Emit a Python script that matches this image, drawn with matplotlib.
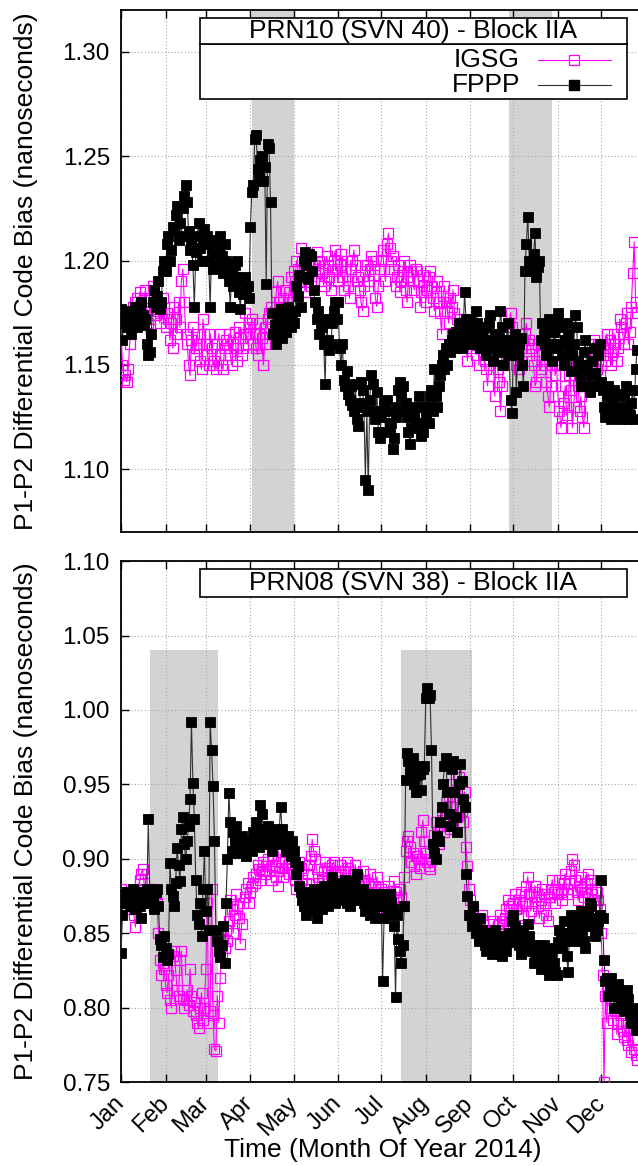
import numpy as np
import matplotlib
matplotlib.use("Agg")
import matplotlib.pyplot as plt
from matplotlib.patches import Rectangle
from matplotlib.lines import Line2D

plt.rcParams['font.family'] = ['Liberation Sans', 'DejaVu Sans']

# ---------------- data ----------------
months = ['Jan', 'Feb', 'Mar', 'Apr', 'May', 'Jun',
          'Jul', 'Aug', 'Sep', 'Oct', 'Nov', 'Dec']
month_start = [0, 31, 59, 90, 120, 151, 181, 212, 243, 273, 304, 334]

# PRN10 FPPP (daily, per month)
prn10_fppp = [
    [1.177,1.162,1.175,1.170,1.168,1.172,1.176,1.165,1.170,1.173,1.178,1.168,1.171,1.175,1.180,1.174,1.169,1.172,1.160,1.155,1.156,1.165,1.180,1.186,1.178,1.183,1.190,1.177,1.180,1.195,1.200],
    [1.195,1.208,1.212,1.200,1.205,1.216,1.214,1.222,1.226,1.210,1.218,1.212,1.225,1.231,1.236,1.228,1.214,1.205,1.210,1.198,1.178,1.204,1.212,1.218,1.206,1.200,1.210,1.215],
    [1.208,1.212,1.200,1.178,1.205,1.196,1.210,1.203,1.198,1.206,1.212,1.202,1.194,1.208,1.200,1.196,1.190,1.178,1.195,1.188,1.198,1.192,1.200,1.185,1.177,1.190,1.184,1.192,1.186,1.188,1.182],
    [1.216,1.233,1.236,1.258,1.260,1.244,1.240,1.248,1.250,1.238,1.245,1.189,1.256,1.254,1.228,1.175,1.165,1.169,1.160,1.172,1.168,1.177,1.163,1.170,1.174,1.166,1.178,1.172,1.168,1.175],
    [1.170,1.176,1.188,1.183,1.193,1.178,1.192,1.200,1.204,1.198,1.191,1.203,1.202,1.195,1.186,1.180,1.172,1.176,1.165,1.170,1.168,1.160,1.141,1.172,1.162,1.157,1.160,1.170,1.176,1.180,1.172],
    [1.180,1.158,1.150,1.160,1.143,1.140,1.147,1.136,1.133,1.140,1.131,1.128,1.141,1.124,1.121,1.132,1.142,1.138,1.130,1.095,1.128,1.090,1.133,1.145,1.141,1.128,1.124,1.137,1.118,1.115],
    [1.125,1.128,1.132,1.118,1.133,1.128,1.120,1.122,1.110,1.115,1.125,1.130,1.138,1.142,1.135,1.140,1.128,1.132,1.125,1.118,1.112,1.120,1.128,1.125,1.130,1.122,1.135,1.120,1.116,1.118,1.130],
    [1.125,1.130,1.122,1.135,1.138,1.128,1.148,1.135,1.130,1.140,1.145,1.150,1.155,1.148,1.158,1.150,1.160,1.156,1.162,1.165,1.158,1.166,1.163,1.170,1.161,1.158,1.165,1.185,1.172,1.168,1.160],
    [1.172,1.165,1.160,1.168,1.176,1.170,1.163,1.158,1.165,1.160,1.168,1.155,1.162,1.170,1.174,1.158,1.152,1.165,1.160,1.156,1.163,1.176,1.168,1.150,1.158,1.162,1.170,1.155,1.133,1.127],
    [1.160,1.165,1.137,1.155,1.160,1.163,1.150,1.140,1.195,1.208,1.221,1.200,1.195,1.198,1.203,1.213,1.192,1.197,1.200,1.162,1.170,1.165,1.160,1.155,1.168,1.172,1.160,1.152,1.166,1.158,1.170],
    [1.175,1.168,1.160,1.155,1.150,1.162,1.170,1.165,1.158,1.147,1.155,1.160,1.174,1.168,1.152,1.145,1.140,1.150,1.156,1.162,1.148,1.140,1.137,1.145,1.152,1.158,1.146,1.140,1.155,1.160],
    [1.142,1.138,1.130,1.125,1.135,1.140,1.128,1.124,1.132,1.138,1.125,1.130,1.136,1.128,1.124,1.127,1.135,1.140,1.130,1.124,1.126,1.132,1.138,1.124,1.148,1.157],
]

# PRN10 IGSG
prn10_igsg = [
    [1.168,1.150,1.143,1.145,1.142,1.148,1.160,1.172,1.178,1.175,1.180,1.182,1.176,1.185,1.178,1.174,1.182,1.186,1.176,1.170,1.172,1.182,1.188,1.178,1.174,1.180,1.176,1.170,1.178,1.182,1.175],
    [1.168,1.175,1.172,1.162,1.170,1.158,1.178,1.172,1.165,1.180,1.168,1.190,1.196,1.180,1.165,1.160,1.150,1.145,1.162,1.168,1.155,1.158,1.165,1.160,1.152,1.148,1.172,1.165],
    [1.160,1.155,1.150,1.165,1.158,1.150,1.152,1.148,1.160,1.165,1.155,1.150,1.148,1.158,1.162,1.160,1.165,1.155,1.150,1.160,1.166,1.158,1.152,1.168,1.163,1.155,1.158,1.175,1.165,1.160,1.170],
    [1.168,1.172,1.160,1.165,1.158,1.155,1.165,1.170,1.163,1.150,1.160,1.168,1.172,1.175,1.178,1.170,1.165,1.175,1.185,1.190,1.180,1.178,1.172,1.182,1.186,1.178,1.170,1.185,1.192,1.180],
    [1.195,1.188,1.200,1.196,1.190,1.206,1.200,1.194,1.185,1.192,1.198,1.202,1.188,1.195,1.190,1.198,1.204,1.196,1.200,1.190,1.194,1.188,1.196,1.202,1.198,1.192,1.186,1.195,1.200,1.205,1.196],
    [1.190,1.198,1.203,1.192,1.186,1.195,1.200,1.188,1.182,1.196,1.200,1.205,1.198,1.190,1.192,1.186,1.180,1.176,1.188,1.195,1.198,1.190,1.196,1.202,1.200,1.193,1.182,1.178,1.188,1.196],
    [1.200,1.205,1.196,1.190,1.208,1.213,1.206,1.200,1.202,1.196,1.188,1.192,1.198,1.185,1.190,1.195,1.200,1.186,1.180,1.192,1.198,1.195,1.190,1.186,1.196,1.195,1.190,1.178,1.185,1.193,1.188],
    [1.180,1.186,1.192,1.195,1.188,1.182,1.176,1.185,1.190,1.180,1.175,1.165,1.183,1.188,1.180,1.176,1.170,1.182,1.178,1.186,1.175,1.165,1.172,1.160,1.172,1.170,1.165,1.170,1.160,1.152,1.160],
    [1.165,1.158,1.168,1.160,1.155,1.163,1.150,1.165,1.158,1.160,1.152,1.148,1.140,1.150,1.158,1.163,1.155,1.135,1.160,1.148,1.142,1.128,1.140,1.150,1.160,1.155,1.165,1.170,1.175,1.168],
    [1.160,1.155,1.150,1.156,1.148,1.152,1.158,1.162,1.165,1.170,1.160,1.162,1.158,1.152,1.150,1.140,1.142,1.160,1.155,1.148,1.152,1.160,1.150,1.142,1.135,1.130,1.140,1.150,1.155,1.145,1.150],
    [1.135,1.128,1.120,1.125,1.132,1.140,1.126,1.130,1.145,1.138,1.120,1.130,1.145,1.150,1.140,1.128,1.135,1.125,1.120,1.140,1.150,1.145,1.138,1.150,1.160,1.162,1.155,1.148,1.152,1.145],
    [1.150,1.155,1.160,1.152,1.165,1.158,1.162,1.150,1.156,1.165,1.160,1.152,1.158,1.172,1.168,1.165,1.160,1.170,1.175,1.160,1.166,1.178,1.194,1.209,1.180,1.175],
]

# PRN08 FPPP
prn08_fppp = [
    [0.837,0.862,0.876,0.870,0.878,0.872,0.868,0.874,0.880,0.870,0.866,0.876,0.872,0.868,0.860,0.874,0.878,0.870,0.880,0.927,0.876,0.870,0.874,0.866,0.878,0.880,0.868,0.846,0.842,0.834,0.848],
    [0.840,0.832,0.836,0.897,0.880,0.875,0.868,0.884,0.907,0.896,0.885,0.920,0.928,0.910,0.900,0.912,0.922,0.940,0.992,0.951,0.927,0.886,0.862,0.856,0.870,0.848,0.880,0.905],
    [0.865,0.880,0.852,0.992,0.973,0.949,0.912,0.852,0.845,0.838,0.834,0.842,0.855,0.830,0.870,0.900,0.944,0.925,0.905,0.918,0.912,0.922,0.904,0.910,0.906,0.915,0.908,0.912,0.902,0.910,0.906],
    [0.912,0.905,0.918,0.910,0.925,0.915,0.908,0.936,0.930,0.920,0.915,0.910,0.922,0.918,0.912,0.905,0.910,0.916,0.920,0.912,0.918,0.935,0.920,0.910,0.912,0.905,0.915,0.908,0.902,0.912],
    [0.905,0.898,0.890,0.895,0.882,0.878,0.872,0.868,0.875,0.862,0.870,0.878,0.866,0.872,0.880,0.868,0.860,0.874,0.876,0.870,0.866,0.882,0.878,0.872,0.868,0.875,0.882,0.888,0.876,0.870,0.880],
    [0.884,0.878,0.872,0.880,0.876,0.886,0.870,0.874,0.868,0.880,0.876,0.872,0.885,0.890,0.878,0.872,0.876,0.880,0.870,0.865,0.872,0.868,0.862,0.876,0.870,0.866,0.860,0.872,0.868,0.876],
    [0.876,0.818,0.860,0.872,0.868,0.862,0.876,0.870,0.866,0.855,0.807,0.862,0.846,0.838,0.830,0.842,0.868,0.953,0.971,0.966,0.958,0.962,0.968,0.950,0.945,0.956,0.962,0.957,0.946,0.960,0.962],
    [1.008,1.015,1.008,1.010,0.973,0.910,0.904,0.900,0.915,0.912,0.925,0.935,0.950,0.962,0.968,0.945,0.930,0.922,0.960,0.966,0.945,0.928,0.918,0.950,0.964,0.952,0.940,0.935,0.890,0.875,0.862],
    [0.862,0.855,0.868,0.860,0.850,0.856,0.845,0.860,0.852,0.848,0.842,0.838,0.850,0.845,0.840,0.836,0.846,0.852,0.842,0.838,0.844,0.840,0.835,0.848,0.842,0.838,0.846,0.850,0.844,0.858],
    [0.862,0.855,0.845,0.850,0.842,0.836,0.848,0.852,0.840,0.845,0.856,0.848,0.842,0.838,0.830,0.836,0.842,0.840,0.832,0.826,0.835,0.842,0.838,0.830,0.826,0.822,0.834,0.840,0.830,0.824,0.822],
    [0.844,0.852,0.848,0.840,0.858,0.845,0.835,0.824,0.850,0.862,0.856,0.845,0.852,0.858,0.848,0.860,0.865,0.852,0.845,0.840,0.856,0.862,0.870,0.868,0.855,0.860,0.848,0.852,0.858,0.862],
    [0.886,0.860,0.832,0.818,0.820,0.808,0.812,0.820,0.815,0.800,0.812,0.808,0.816,0.800,0.805,0.810,0.798,0.802,0.812,0.806,0.795,0.790,0.798,0.800,0.785,0.792],
]

# PRN08 IGSG
prn08_igsg = [
    [0.880,0.875,0.872,0.868,0.878,0.874,0.870,0.866,0.872,0.862,0.854,0.876,0.880,0.886,0.890,0.893,0.884,0.876,0.872,0.878,0.874,0.880,0.872,0.868,0.876,0.870,0.850,0.832,0.822,0.830,0.826],
    [0.815,0.810,0.822,0.805,0.800,0.835,0.838,0.825,0.812,0.808,0.832,0.838,0.806,0.800,0.805,0.812,0.802,0.826,0.808,0.798,0.804,0.795,0.790,0.786,0.800,0.810,0.792,0.800],
    [0.826,0.870,0.790,0.798,0.880,0.795,0.772,0.771,0.808,0.790,0.820,0.835,0.846,0.840,0.852,0.845,0.858,0.872,0.866,0.850,0.862,0.876,0.868,0.860,0.843,0.856,0.870,0.874,0.880,0.884,0.870],
    [0.878,0.882,0.888,0.884,0.890,0.896,0.893,0.886,0.892,0.898,0.890,0.895,0.900,0.892,0.886,0.896,0.902,0.895,0.888,0.882,0.892,0.898,0.894,0.888,0.900,0.905,0.896,0.890,0.894,0.898],
    [0.890,0.886,0.880,0.892,0.898,0.894,0.886,0.880,0.874,0.884,0.890,0.896,0.902,0.913,0.905,0.900,0.893,0.888,0.884,0.878,0.886,0.892,0.898,0.894,0.888,0.882,0.890,0.896,0.898,0.892,0.888],
    [0.892,0.896,0.890,0.884,0.878,0.892,0.898,0.894,0.886,0.880,0.884,0.890,0.896,0.888,0.882,0.876,0.885,0.892,0.886,0.880,0.875,0.884,0.890,0.878,0.870,0.876,0.882,0.888,0.880,0.874],
    [0.880,0.872,0.878,0.870,0.865,0.882,0.876,0.860,0.870,0.885,0.878,0.866,0.872,0.880,0.874,0.868,0.888,0.905,0.912,0.915,0.908,0.898,0.904,0.895,0.890,0.902,0.900,0.894,0.918,0.926,0.912],
    [0.904,0.898,0.895,0.893,0.900,0.910,0.916,0.925,0.918,0.910,0.922,0.930,0.926,0.918,0.935,0.928,0.942,0.920,0.930,0.950,0.945,0.935,0.928,0.955,0.940,0.932,0.925,0.945,0.908,0.895,0.880],
    [0.872,0.860,0.866,0.858,0.852,0.860,0.848,0.856,0.862,0.858,0.850,0.846,0.852,0.856,0.848,0.845,0.858,0.852,0.846,0.850,0.856,0.862,0.858,0.852,0.860,0.866,0.872,0.868,0.858,0.862],
    [0.870,0.876,0.866,0.860,0.872,0.878,0.868,0.862,0.870,0.882,0.888,0.876,0.865,0.870,0.878,0.882,0.874,0.868,0.860,0.872,0.880,0.876,0.870,0.862,0.858,0.874,0.880,0.886,0.878,0.870,0.876],
    [0.880,0.886,0.878,0.872,0.884,0.890,0.880,0.876,0.884,0.892,0.900,0.896,0.886,0.878,0.872,0.882,0.888,0.880,0.874,0.878,0.884,0.890,0.886,0.880,0.876,0.872,0.868,0.878,0.872,0.866],
    [0.850,0.822,0.750,0.808,0.790,0.815,0.800,0.805,0.792,0.810,0.798,0.782,0.790,0.805,0.795,0.784,0.780,0.790,0.778,0.775,0.786,0.770,0.778,0.772,0.768,0.765],
]

# shaded periods (day of year)
prn10_shade = [(91, 120.5), (270, 299.5)]
prn08_shade = [(20, 67.5), (195, 244)]
prn08_shade_top = 1.04

titles = ['PRN10 (SVN 40) - Block IIA', 'PRN08 (SVN 38) - Block IIA']
series_names = ['IGSG', 'FPPP']
ylabel = 'P1-P2 Differential Code Bias (nanoseconds)'
xlabel = 'Time (Month Of Year 2014)'


def flatten(monthly):
    xs, ys = [], []
    for start, vals in zip(month_start, monthly):
        xs.extend(start + np.arange(len(vals)))
        ys.extend(vals)
    return np.array(xs, float), np.array(ys, float)


MAG = '#ff00ff'
FS_TICK = 17.5
FS_MONTH = 17
FS_TXT = 19
MS = 6.6

fig = plt.figure(figsize=(6.38, 11.66), dpi=100)
ax1 = fig.add_axes([0.1897, 0.5437, 0.8223, 0.4477])
ax2 = fig.add_axes([0.1897, 0.0720, 0.8223, 0.4468])


def style(ax, ylim, yticks, show_x):
    ax.set_xlim(0, 365)
    ax.set_ylim(*ylim)
    ax.set_xticks(month_start)
    ax.set_yticks(yticks)
    ax.set_yticklabels([f'{v:.2f}' for v in yticks], fontsize=FS_TICK)
    if show_x:
        ax.set_xticklabels(months, rotation=45, ha='right', va='center',
                           rotation_mode='anchor', fontsize=FS_MONTH)
    else:
        ax.set_xticklabels([])
    ax.tick_params(direction='in', length=6, width=1.0, top=True, right=True,
                   pad=8)
    ax.tick_params(axis='x', pad=13)
    ax.grid(True, color='#a8a8a8', linestyle=(0, (1, 2)), linewidth=0.8)
    ax.set_axisbelow(True)
    for sp in ax.spines.values():
        sp.set_linewidth(1.3)
    ax.set_ylabel(ylabel, fontsize=FS_TXT)
    ax.yaxis.set_label_coords(-0.158, 0.5)


def plot_series(ax, igsg, fppp):
    x, y = flatten(igsg)
    ax.plot(x, y, '-', color=MAG, lw=0.8, marker='s', ms=MS,
            mfc='none', mec=MAG, mew=0.9, zorder=3)
    x, y = flatten(fppp)
    ax.plot(x, y, '-', color='#303030', lw=0.8, marker='s', ms=MS,
            mfc='black', mec='black', mew=0.6, zorder=4)


def title_box(ax, title, y0, y1):
    ax.add_patch(Rectangle((0.1506, y0), 0.9646 - 0.1506, y1 - y0,
                           transform=ax.transAxes, facecolor='white',
                           edgecolor='black', lw=1.2, zorder=10,
                           clip_on=False))
    ax.text(0.557, (y0 + y1) / 2, title, transform=ax.transAxes,
            ha='center', va='center', fontsize=FS_TXT, zorder=11)


# ---- top panel ----
style(ax1, (1.07, 1.32), [1.10, 1.15, 1.20, 1.25, 1.30], False)
for a, b in prn10_shade:
    ax1.axvspan(a, b, color='#d3d3d3', lw=0, zorder=0)
plot_series(ax1, prn10_igsg, prn10_fppp)
ax1.add_patch(Rectangle((0.1506, 0.8295), 0.9646 - 0.1506, 0.9349 - 0.8295,
                        transform=ax1.transAxes, facecolor='white',
                        edgecolor='black', lw=1.2, zorder=10))
title_box(ax1, titles[0], 0.9349, 0.9847)
for name, yy, kind in [(series_names[0], 0.9042, 'i'),
                       (series_names[1], 0.8563, 'f')]:
    ax1.text(0.7606, yy, name, transform=ax1.transAxes, ha='right',
             va='center', fontsize=FS_TXT, zorder=11)
    if kind == 'i':
        ln = Line2D([0.795, 0.934], [yy, yy], color=MAG, lw=0.8,
                    transform=ax1.transAxes, zorder=11)
        mk = Line2D([0.8635], [yy], marker='s', ms=MS, mfc='none',
                    mec=MAG, mew=0.9, transform=ax1.transAxes, zorder=12)
    else:
        ln = Line2D([0.795, 0.934], [yy, yy], color='#303030', lw=0.8,
                    transform=ax1.transAxes, zorder=11)
        mk = Line2D([0.8635], [yy], marker='s', ms=MS, mfc='black',
                    mec='black', transform=ax1.transAxes, zorder=12)
    ax1.add_line(ln)
    ax1.add_line(mk)

# ---- bottom panel ----
style(ax2, (0.75, 1.10), [0.75, 0.80, 0.85, 0.90, 0.95, 1.00, 1.05, 1.10], True)
for a, b in prn08_shade:
    ax2.fill_between([a, b], 0.75, prn08_shade_top, color='#d3d3d3',
                     lw=0, zorder=0)
plot_series(ax2, prn08_igsg, prn08_fppp)
title_box(ax2, titles[1], 0.9309, 0.9846)

fig.text(383 / 638, 1 - 1150 / 1166, xlabel, ha='center', va='center',
         fontsize=FS_TXT)

fig.savefig('out.png', dpi=100)
